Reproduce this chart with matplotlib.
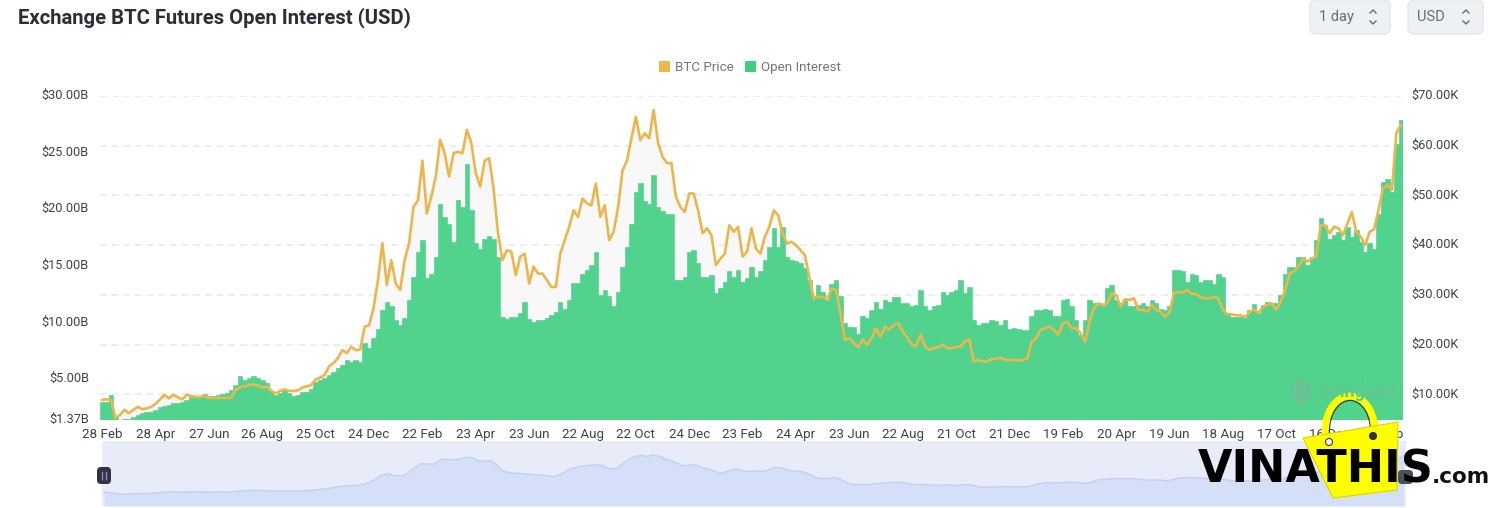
import numpy as np
import pandas as pd
import matplotlib
matplotlib.use('Agg')
import matplotlib.pyplot as plt
from matplotlib.patches import FancyBboxPatch, Polygon, Arc, Circle, Rectangle, Ellipse
from matplotlib.transforms import ScaledTranslation

plt.rcParams['font.family'] = ['Roboto', 'DejaVu Sans']

# one value every 5 days
price_k = [
    8.9, 9.0, 8.9, 5.2, 5.9, 6.9, 6.2, 6.9, 7.5, 7.0,
    7.2, 7.5, 8.1, 9.0, 9.9, 9.2, 9.9, 9.4, 9.0, 9.9,
    9.7, 9.5, 9.5, 9.7, 9.3, 9.3, 9.3, 9.3, 9.3, 9.3,
    10.9, 11.4, 11.6, 11.9, 12.0, 11.8, 11.4, 11.6, 10.7, 10.2,
    10.7, 11.0, 10.7, 10.7, 10.8, 11.4, 11.6, 11.9, 13.0, 13.4,
    13.9, 15.6, 16.3, 17.3, 18.9, 18.3, 19.6, 18.9, 19.0, 23.6,
    23.9, 27.3, 33.0, 40.4, 32.0, 37.0, 32.3, 31.0, 37.0, 40.4,
    47.7, 49.0, 57.0, 46.4, 49.8, 53.8, 61.2, 58.5, 53.8, 58.5,
    58.8, 58.5, 63.2, 60.5, 54.5, 51.8, 57.0, 57.5, 51.4, 42.4,
    37.0, 39.0, 38.7, 34.0, 37.7, 38.3, 32.3, 35.7, 34.3, 34.3,
    33.0, 31.6, 31.6, 38.3, 41.0, 43.7, 47.0, 45.7, 49.4, 48.4,
    48.0, 52.4, 45.7, 48.0, 41.0, 42.7, 47.7, 55.0, 57.0, 61.5,
    65.8, 61.1, 62.5, 61.5, 67.2, 60.5, 57.8, 56.5, 56.5, 49.7,
    47.7, 46.7, 50.4, 50.4, 47.0, 42.4, 43.4, 42.0, 36.0, 37.3,
    38.3, 44.0, 42.7, 43.7, 37.7, 38.7, 43.4, 39.3, 38.3, 41.7,
    43.7, 47.0, 46.0, 42.4, 40.3, 40.7, 40.0, 39.0, 38.0, 33.6,
    29.3, 29.6, 29.6, 29.0, 31.3, 31.0, 26.3, 20.9, 21.3, 20.3,
    19.5, 21.0, 20.0, 21.3, 23.3, 21.6, 23.6, 23.0, 24.0, 24.4,
    22.6, 21.5, 20.0, 19.7, 22.0, 19.7, 19.0, 19.3, 19.5, 20.0,
    19.3, 19.3, 19.5, 19.6, 20.7, 21.0, 16.6, 16.9, 16.6, 16.6,
    17.1, 17.1, 17.4, 16.9, 17.0, 16.9, 16.8, 16.9, 17.2, 20.6,
    21.3, 23.0, 23.3, 23.6, 23.0, 22.0, 24.3, 24.6, 23.3, 23.3,
    22.3, 20.6, 24.6, 27.3, 28.3, 28.0, 28.3, 30.3, 30.0, 27.6,
    29.1, 29.0, 29.3, 27.0, 27.0, 26.6, 28.0, 27.0, 26.6, 25.6,
    26.6, 30.4, 30.6, 30.4, 31.0, 30.2, 30.2, 29.5, 29.3, 29.3,
    29.6, 29.3, 27.0, 26.1, 26.1, 25.9, 25.9, 25.5, 26.6, 27.0,
    26.4, 27.6, 28.0, 28.3, 27.0, 28.6, 31.0, 34.3, 34.7, 35.7,
    37.3, 36.7, 37.3, 37.7, 44.0, 44.0, 42.4, 43.7, 43.4, 42.0,
    44.4, 46.7, 42.7, 41.7, 40.0, 42.7, 43.2, 47.1, 51.4, 52.1,
    51.1, 62.5, 64.2,
]

open_interest_b = [
    2.99, 3.0, 3.6, 1.66, 1.4, 1.45, 1.5, 1.6, 1.8, 2.0,
    2.05, 2.1, 2.25, 2.55, 2.6, 2.7, 2.85, 2.9, 3.0, 3.15,
    3.4, 3.4, 3.45, 3.7, 3.5, 3.45, 3.6, 3.7, 3.75, 4.0,
    4.45, 5.25, 4.9, 5.05, 5.25, 5.05, 4.9, 4.6, 3.9, 3.6,
    3.75, 4.0, 3.75, 3.5, 3.6, 3.85, 3.85, 4.15, 4.75, 4.9,
    5.05, 5.35, 5.6, 5.95, 6.2, 6.65, 6.5, 6.65, 6.5, 8.15,
    7.7, 8.6, 9.45, 11.1, 11.8, 11.4, 10.2, 9.75, 10.35, 12.0,
    14.0, 16.2, 17.3, 13.9, 14.3, 15.8, 20.5, 19.3, 18.7, 17.1,
    20.8, 20.2, 24.0, 19.9, 17.0, 16.5, 17.4, 17.6, 17.4, 15.8,
    10.5, 10.3, 10.5, 10.5, 10.8, 11.8, 10.3, 10.05, 10.2, 10.2,
    10.35, 10.65, 10.9, 11.8, 11.2, 12.0, 13.45, 13.45, 14.3, 14.6,
    15.05, 16.2, 12.4, 12.85, 12.3, 11.4, 12.7, 14.9, 16.7, 18.7,
    21.5, 22.3, 20.7, 20.5, 23.0, 20.2, 19.8, 19.6, 19.6, 13.7,
    13.7, 14.0, 16.2, 16.4, 15.2, 14.0, 14.0, 14.2, 12.6, 13.0,
    13.6, 14.5, 14.0, 14.6, 13.6, 13.9, 14.9, 14.0, 14.5, 15.5,
    16.7, 18.3, 16.7, 18.4, 15.8, 15.5, 15.4, 15.2, 14.8, 13.7,
    12.3, 13.3, 12.7, 12.0, 13.4, 13.7, 12.3, 9.9, 9.6, 9.6,
    9.0, 10.6, 10.35, 11.1, 11.8, 11.2, 12.0, 11.8, 12.25, 12.25,
    11.7, 11.7, 11.4, 11.5, 12.85, 11.4, 11.1, 11.4, 11.5, 12.7,
    12.4, 12.7, 12.85, 13.7, 12.55, 13.15, 10.2, 9.75, 9.9, 9.9,
    10.2, 10.1, 9.75, 10.2, 9.45, 9.5, 9.45, 9.3, 9.3, 10.6,
    11.1, 11.1, 11.2, 11.1, 10.6, 10.6, 12.0, 12.1, 11.4, 10.2,
    8.9, 10.2, 12.0, 11.7, 11.7, 11.4, 13.0, 13.3, 12.0, 11.7,
    12.1, 11.4, 11.4, 11.5, 11.7, 11.4, 12.0, 11.7, 11.2, 11.1,
    11.4, 14.6, 14.6, 14.5, 13.6, 14.3, 14.2, 13.6, 13.7, 13.7,
    13.4, 14.3, 14.0, 10.8, 10.5, 10.5, 10.5, 10.35, 11.1, 11.6,
    10.8, 11.5, 11.8, 11.7, 11.7, 12.4, 14.3, 14.9, 14.9, 15.8,
    15.8, 15.05, 15.8, 17.3, 19.2, 18.6, 17.4, 17.7, 18.0, 17.3,
    18.4, 17.5, 18.15, 17.1, 16.2, 17.0, 16.5, 19.6, 22.4, 22.7,
    21.5, 25.8, 27.9,
]

date_labels = ['28 Feb', '28 Apr', '27 Jun', '26 Aug', '25 Oct', '24 Dec', '22 Feb',
               '23 Apr', '23 Jun', '22 Aug', '22 Oct', '24 Dec', '23 Feb', '24 Apr',
               '23 Jun', '22 Aug', '21 Oct', '21 Dec', '19 Feb', '20 Apr', '19 Jun',
               '18 Aug', '17 Oct', '16 Dec', '14 Feb']
left_ticks = [1.37, 5, 10, 15, 20, 25, 30]
left_labels = ['$1.37B', '$5.00B', '$10.00B', '$15.00B', '$20.00B', '$25.00B', '$30.00B']
right_ticks = [10, 20, 30, 40, 50, 60, 70]
right_labels = ['$10.00K', '$20.00K', '$30.00K', '$40.00K', '$50.00K', '$60.00K', '$70.00K']

W, H = 1500, 508
GREEN = '#50d38c'
GOLD = '#ebb64c'
TICK = '#3f4249'


def px_rect(x0, y_top, x1, y_bottom):
    return [x0 / W, 1 - y_bottom / H, (x1 - x0) / W, (y_bottom - y_top) / H]


fig = plt.figure(figsize=(15, 5.08), dpi=100, facecolor='white')
x = np.arange(len(price_k))
xlim = (-0.5, len(price_k) - 0.5)
rect = px_rect(100, 96, 1403, 420)
price_lim = (4.85, 70.0)
up_2px = ScaledTranslation(0, 2 / 100, fig.dpi_scale_trans)

# back layer: grid and grey area under the price, right hand scale
ax_r = fig.add_axes(rect, zorder=1)
ax_r.fill_between(x, price_lim[0], price_k, color='#f8f8f8', lw=0)
ax_r.set_xlim(xlim)
ax_r.set_ylim(price_lim)
ax_r.yaxis.tick_right()
ax_r.set_yticks(right_ticks, right_labels)
ax_r.grid(axis='y', color='#ebebeb', lw=1.2, ls=(0, (4, 3)))
ax_r.set_axisbelow(True)
ax_r.tick_params(axis='y', length=0, pad=6, labelsize=9.2, labelcolor=TICK)
ax_r.set_xticks([])

# open interest bars, left hand scale
ax_l = fig.add_axes(rect, zorder=2)
ax_l.patch.set_alpha(0)
ax_l.bar(x, open_interest_b, width=1.0, bottom=0, color=GREEN, edgecolor='#48cd85', linewidth=0.4)
ax_l.set_xlim(xlim)
ax_l.set_ylim(1.37, 30)
ax_l.set_yticks(left_ticks, left_labels)
ax_l.tick_params(axis='y', length=0, pad=8, labelsize=9.2, labelcolor=TICK)
ax_l.set_xticks(x[::12][:len(date_labels)], date_labels)
ax_l.tick_params(axis='x', length=0, pad=6, labelsize=9.6, labelcolor=TICK)
for a in [ax_r, ax_l]:
    for lbl in a.get_yticklabels():
        lbl.set_transform(lbl.get_transform() + up_2px)

# price line on top of the bars
ax_p = fig.add_axes(rect, zorder=3)
ax_p.patch.set_alpha(0)
ax_p.plot(x, price_k, color=GOLD, lw=1.9, solid_joinstyle='round')
ax_p.set_xlim(xlim)
ax_p.set_ylim(price_lim)
ax_p.axis('off')

for a in [ax_r, ax_l]:
    for s in a.spines.values():
        s.set_visible(False)

# range slider underneath, same price series drawn a bit smoother
slider_price = pd.Series(price_k).rolling(3, center=True, min_periods=1).mean()
ax_s = fig.add_axes(px_rect(102, 441, 1406, 506), zorder=1)
ax_s.set_facecolor('#e8ecf9')
ax_s.fill_between(x, -11.2, slider_price, color='#d5dff8', lw=0)
ax_s.plot(x, slider_price, color='#c0cff6', lw=1.0)
ax_s.set_xlim(xlim)
ax_s.set_ylim(-11.2, 84.7)
ax_s.set_xticks([])
ax_s.set_yticks([])
for s in ax_s.spines.values():
    s.set_visible(False)

# everything else is drawn in pixel coordinates
ov = fig.add_axes([0, 0, 1, 1], zorder=5)
ov.set_xlim(0, W)
ov.set_ylim(H, 0)
ov.axis('off')
ov.patch.set_alpha(0)

ov.text(18, 18, 'Exchange BTC Futures Open Interest (USD)', fontsize=14.58, fontweight='bold',
        color='#2a2e35', va='center', ha='left')

# select boxes
for bx0, bx1, label in [(1310, 1390, '1 day'), (1408, 1483, 'USD')]:
    ov.add_patch(FancyBboxPatch((bx0, 0), bx1 - bx0, 34, boxstyle='round,pad=0,rounding_size=6',
                                fc='#eef1f4', ec='#e6e9ec', lw=1.2))
    ov.text(bx0 + 9, 17, label, fontsize=10.5, color='#666b75', va='center', ha='left')
    cx = bx1 - 17
    ov.plot([cx - 3, cx, cx + 3], [13, 10, 13], color='#666b75', lw=1)
    ov.plot([cx - 3, cx, cx + 3], [21, 24, 21], color='#666b75', lw=1)

# legend
ov.add_patch(Rectangle((659, 61), 11, 11, fc='#edb94c', lw=0))
ov.text(675, 66, 'BTC Price', fontsize=9.6, color='#6f7480', va='center_baseline')
ov.add_patch(Rectangle((745, 61), 11, 11, fc='#3ccf80', lw=0))
ov.text(761, 66, 'Open Interest', fontsize=9.6, color='#6f7480', va='center_baseline')

# slider handles
ov.add_patch(FancyBboxPatch((97, 467), 14, 17, boxstyle='round,pad=0,rounding_size=4', fc='#2f3347', lw=0))
ov.add_patch(FancyBboxPatch((1398, 470), 15, 14, boxstyle='round,pad=0,rounding_size=4', fc='#4a4d5c', lw=0))
ov.plot([102, 102], [472, 479], color='#8b8fa0', lw=1)
ov.plot([106, 106], [472, 479], color='#8b8fa0', lw=1)

# coinglass mark
ov.add_patch(Ellipse((1301, 390), 21, 22, fc='#6fbf95', alpha=0.75, lw=0))
ov.add_patch(Rectangle((1296, 398), 10, 7, fc='#6fbf95', alpha=0.75, lw=0))
ov.text(1320, 392, 'coinglass', fontsize=13, fontweight='bold', color='#63c691', va='center')

# vinathis logo
ov.add_patch(Arc((1350, 431), 50, 70, theta1=170, theta2=370, ec='#ffff00', lw=5))
ov.add_patch(Arc((1350, 431), 41, 61, theta1=170, theta2=370, ec='#3a3a20', lw=0.8))
ov.add_patch(Polygon([(1303, 438), (1398, 422), (1397, 490), (1333, 498)], fc='#ffff00', ec='#d8d800', lw=0.8))
ov.add_patch(Circle((1329, 442), 3.5, fc='white', ec='#333333', lw=0.8))
ov.add_patch(Circle((1373, 436), 3.5, fc='#333333', ec='#333333', lw=0.8))
ov.text(1198, 470, 'VINATHIS', fontsize=32, fontweight='bold', family='DejaVu Sans', color='black',
        va='center', ha='left')
ov.text(1432, 477, '.com', fontsize=15.5, fontweight='bold', family='DejaVu Sans', color='#111111',
        va='center', ha='left')

fig.savefig('out.png', dpi=100)
